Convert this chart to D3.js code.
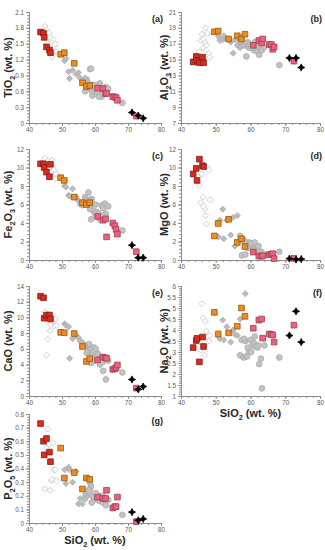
<!DOCTYPE html>
<html>
<head>
<meta charset="utf-8">
<script src="https://cdn.jsdelivr.net/npm/d3@7"></script>
<style>
body { margin: 0; background: #fff; }
svg { display: block; font-family: "Liberation Sans", Arial, sans-serif; }
</style>
</head>
<body>
<svg id="chart"></svg>
<script>
// columns of every row below
const columns = ["SiO2", "TiO2", "Al2O3", "Fe2O3", "MgO", "CaO", "Na2O", "P2O5"];

// red squares
const redRows = [
    [43.5, 1.72, 14.7, 10.4, 9.3, 12.7, 3.20, 0.73],
    [44.4, 1.70, 15.4, 10.4, 9.9, 12.5, 3.52, 0.60],
    [44.6, 1.62, 14.9, 10.0, 8.6, 9.9, 3.62, 0.50],
    [45.3, 1.44, 14.6, 9.5, 10.9, 10.3, 2.55, 0.62],
    [46.2, 1.38, 15.3, 9.0, 10.2, 10.3, 3.68, 0.52],
    [46.5, 1.33, 14.6, 10.35, 10.1, 9.8, 3.25, 0.45]
];
// orange squares
const orangeRows = [
    [49.6, 1.30, 18.5, 8.9, 2.6, 8.1, 4.80, 0.55],
    [50.7, 1.33, 18.6, 8.6, 3.95, 8.05, 3.82, 0.33],
    [53.7, 1.13, 17.6, 6.8, 4.4, 7.95, 3.87, 0.37],
    [56.2, 0.76, 18.0, 6.2, 1.9, 6.3, 4.17, 0.25],
    [57.4, 0.69, 17.6, 6.0, 2.3, 4.4, 5.00, 0.33],
    [58.4, 0.71, 18.2, 6.2, 1.45, 4.75, 4.62, 0.32]
];
// pink squares
const pinkRows = [
    [60.8, 0.66, 16.8, 4.7, 0.85, 4.6, 4.08, 0.19],
    [62.4, 0.65, 17.4, 4.3, 0.42, 4.95, 4.45, 0.18],
    [63.2, 0.56, 17.1, 4.45, 0.42, 4.85, 4.50, 0.18],
    [63.5, 0.56, 17.6, 2.5, 0.45, 4.8, 3.63, 0.24],
    [65.4, 0.50, 16.9, 4.0, 0.58, 3.4, 3.82, 0.11],
    [66.0, 0.49, 16.9, 3.7, 0.62, 3.45, 3.80, 0.12],
    [66.4, 0.48, 16.3, 3.3, 0.68, 3.6, 3.77, 0.12],
    [66.8, 0.43, 16.6, 2.8, 0.15, 3.95, 3.45, 0.19],
    [72.5, 0.13, 14.8, 0.9, 0.18, 1.0, 4.22, 0.01]
];
// black stars
const blackRows = [
    [71.2, 0.20, 15.2, 1.6, 0.15, 2.1, 3.75, 0.08],
    [73.1, 0.14, 15.2, 0.25, 0.05, 0.85, 4.85, 0.02],
    [74.6, 0.09, 14.0, 0.25, 0.10, 1.2, 3.45, 0.03]
];
// open light diamonds
const openDiamondRows = [
    [44.8, 1.83, 15.5, 11.0, 9.0, 10.7, 3.55, 0.25],
    [45.3, 1.76, 16.0, 10.5, 8.1, 5.2, 3.45, 0.55],
    [45.7, 1.52, 17.4, 10.7, 6.2, 7.2, 3.10, 0.69],
    [46.0, 1.70, 18.2, 10.2, 9.3, 10.3, 5.20, 0.58],
    [46.4, 1.62, 16.5, 9.9, 6.8, 8.3, 4.55, 0.24],
    [46.8, 1.30, 17.2, 9.2, 5.5, 9.6, 2.85, 0.31],
    [47.0, 1.25, 19.0, 10.8, 4.8, 9.3, 4.40, 0.32],
    [47.3, 1.58, 16.8, 10.0, 3.9, 10.0, 3.95, 0.59],
    [47.6, 1.45, 18.3, 9.7, 10.0, 8.9, 3.70, 0.39],
    [48.0, 1.50, 15.8, 8.8, 9.7, 9.8, 3.50, 0.39],
    [48.3, 1.35, 15.3, 9.3, 6.5, 9.0, 3.75, 0.31],
    [46.5, 1.42, 17.6, 9.5, 5.8, 9.1, 3.30, 0.45]
];
// filled grey diamonds
const greyDiamondRows = [
    [50.8, 1.18, 17.9, 8.0, 2.5, 9.2, 3.70, 0.39],
    [51.2, 1.22, 17.4, 7.9, 4.3, 9.0, 3.60, 0.29],
    [52.0, 0.97, 17.5, 7.0, 5.5, 8.8, 4.45, 0.41],
    [52.3, 0.84, 18.0, 6.9, 2.3, 4.8, 3.55, 0.39],
    [53.2, 1.00, 17.6, 7.7, 4.3, 7.3, 4.15, 0.30],
    [54.3, 0.92, 17.2, 6.8, 2.7, 7.7, 3.45, 0.38],
    [55.0, 0.95, 15.8, 6.4, 4.6, 7.4, 4.00, 0.14],
    [55.5, 0.85, 17.5, 6.0, 1.5, 7.0, 3.80, 0.18],
    [56.2, 0.80, 16.8, 5.9, 4.8, 6.8, 3.75, 0.14],
    [57.0, 0.85, 16.5, 6.6, 2.2, 6.5, 4.50, 0.21],
    [58.5, 0.62, 17.0, 6.5, 2.0, 6.0, 5.65, 0.29]
];
// filled grey circles
const greyCircleRows = [
    [57.0, 0.60, 17.3, 6.8, 2.6, 6.4, 2.85, 0.18],
    [57.5, 0.82, 17.8, 6.5, 0.5, 5.5, 3.55, 0.20],
    [58.0, 0.75, 17.0, 7.3, 2.2, 5.8, 2.75, 0.22],
    [58.5, 1.02, 16.8, 5.5, 0.6, 6.2, 3.50, 0.25],
    [58.8, 1.03, 15.4, 4.4, 1.8, 4.2, 2.80, 0.27],
    [59.2, 0.52, 17.2, 6.0, 1.3, 5.3, 3.20, 0.20],
    [59.6, 0.72, 16.5, 5.3, 1.9, 6.2, 3.00, 0.17],
    [60.0, 0.60, 16.8, 5.0, 1.6, 4.5, 3.55, 0.19],
    [60.5, 0.55, 16.5, 5.2, 1.7, 5.5, 3.30, 0.21],
    [61.0, 0.58, 16.2, 4.6, 1.4, 5.3, 3.40, 0.17],
    [61.5, 0.75, 17.0, 4.4, 1.2, 4.0, 3.25, 0.16],
    [62.0, 0.50, 16.0, 5.9, 1.3, 4.9, 3.20, 0.19],
    [62.5, 0.62, 15.6, 5.6, 0.9, 3.2, 2.45, 0.15],
    [63.0, 0.55, 16.3, 6.1, 0.9, 4.8, 2.70, 0.17],
    [63.3, 0.68, 16.2, 5.0, 0.7, 2.1, 1.35, 0.13],
    [68.3, 0.38, 14.3, 3.2, 0.9, 3.0, 2.75, 0.06],
    [58.2, 0.68, 16.8, 6.2, 2.0, 6.6, 3.60, 0.24],
    [59.0, 0.68, 17.0, 6.6, 1.5, 5.0, 2.80, 0.15],
    [60.2, 0.72, 16.5, 6.0, 1.8, 6.0, 3.00, 0.22],
    [61.2, 0.50, 17.2, 5.0, 1.9, 4.7, 3.70, 0.19],
    [62.3, 0.55, 16.8, 4.8, 1.5, 4.3, 3.30, 0.20],
    [64.0, 0.65, 16.6, 5.8, 0.6, 4.5, 3.30, 0.17]
];

// panels (a)-(g)
const panelOxides = ["TiO2", "Al2O3", "Fe2O3", "MgO", "CaO", "Na2O", "P2O5"];
const panelLabels = ["(a)", "(b)", "(c)", "(d)", "(e)", "(f)", "(g)"];
const yTitles = ["TiO_2 (wt. %)", "Al_2O_3 (wt. %)", "Fe_2O_3 (wt. %)", "MgO (wt. %)",
    "CaO (wt. %)", "Na_2O (wt. %)", "P_2O_5 (wt. %)"];
const yDomains = [[0, 2.1], [7, 21], [0, 12], [0, 12], [0, 14], [1, 6], [0, 0.8]];
const yTickSteps = [0.3, 2, 2, 2, 2, 0.5, 0.1];
const xDomain = [40, 80];
const xTickStep = 10;
const xTitle = "SiO_2 (wt. %)";

function chartConfig(){
    let width = 325;
    let height = 550;
    let colX = [[29, 161], [181, 320]];
    let rowY = [[12, 123], [149, 260], [286, 396], [414, 523]];
    let container = d3.select("#chart")
        .attr("width", width)
        .attr("height", height);
    return {width, height, colX, rowY, container};
}

function groupStyles(){
    let diamond = "M0,-3L3,0L0,3L-3,0Z";
    let star = "M0,-3.6L1.2,-1.2L3.6,0L1.2,1.2L0,3.6L-1.2,1.2L-3.6,0L-1.2,-1.2Z";
    return [
        {rows: greyCircleRows, shape: d3.symbol(d3.symbolCircle, 26)(), fill: "#c3c3c3", stroke: "#ababab"},
        {rows: greyDiamondRows, shape: diamond, fill: "#bcbcbc", stroke: "#a8a8a8"},
        {rows: openDiamondRows, shape: diamond, fill: "#ffffff", stroke: "#c4c4c4"},
        {rows: redRows, shape: d3.symbol(d3.symbolSquare, 32)(), fill: "#dd2a1e", stroke: "#7a2018"},
        {rows: orangeRows, shape: d3.symbol(d3.symbolSquare, 32)(), fill: "#f28a1c", stroke: "#8a5a22"},
        {rows: pinkRows, shape: d3.symbol(d3.symbolSquare, 32)(), fill: "#f0607c", stroke: "#9a4052"},
        {rows: blackRows, shape: star, fill: "#000000", stroke: "#000000"}
    ];
}

function addTitle(sel, text, size){
    let parts = text.split(/_(\d)/);
    sel.attr("font-size", size).attr("font-weight", "bold").attr("fill", "#262626");
    let shift = 0;
    parts.forEach((p, i) => {
        if(p === "") return;
        let isSub = i % 2 === 1;
        let want = isSub ? size * 0.3 : 0;
        sel.append("tspan")
            .attr("dy", want - shift)
            .attr("font-size", isSub ? size * 0.65 : size)
            .text(p);
        shift = want;
    });
}

function tickList(domain, step){
    let out = [];
    let n = Math.round((domain[1] - domain[0]) / step);
    for(let i = 0; i <= n; i++){
        out.push(+(domain[0] + i * step).toFixed(3));
    }
    return out;
}

function styleAxis(g){
    g.select(".domain").attr("stroke", "#8c8c8c");
    g.selectAll(".tick line").attr("stroke", "#8c8c8c");
    g.selectAll(".tick text").attr("fill", "#595959").attr("font-size", 6.3);
}

function drawPanel(config, i){
    let {colX, rowY, container} = config;
    let [x0, x1] = colX[i % 2];
    let [y0, y1] = rowY[Math.floor(i / 2)];
    let key = columns.indexOf(panelOxides[i]);
    let xScale = d3.scaleLinear().domain(xDomain).range([x0, x1]);
    let yScale = d3.scaleLinear().domain(yDomains[i]).range([y1, y0]);
    let body = container.append("g");

    // minor ticks
    let xMinor = d3.axisBottom(xScale).tickValues(tickList(xDomain, xTickStep / 5))
        .tickSize(2).tickFormat("");
    body.append("g").attr("transform", `translate(0,${y1})`).call(xMinor).call(styleAxis);
    let yMinor = d3.axisLeft(yScale).tickValues(tickList(yDomains[i], yTickSteps[i] / 5))
        .tickSize(2).tickFormat("");
    body.append("g").attr("transform", `translate(${x0},0)`).call(yMinor).call(styleAxis);

    let xAxis = d3.axisBottom(xScale).tickValues(tickList(xDomain, xTickStep))
        .tickSize(3).tickPadding(2).tickFormat(d => String(d));
    body.append("g").attr("transform", `translate(0,${y1})`).call(xAxis).call(styleAxis);
    let yAxis = d3.axisLeft(yScale).tickValues(tickList(yDomains[i], yTickSteps[i]))
        .tickSize(3).tickPadding(2).tickFormat(d => String(d));
    body.append("g").attr("transform", `translate(${x0},0)`).call(yAxis).call(styleAxis);

    let groups = groupStyles();
    for(let k = 0; k < groups.length; k++){
        let grp = groups[k];
        body.append("g").selectAll("path").data(grp.rows).enter().append("path")
            .attr("d", grp.shape)
            .attr("transform", d => `translate(${xScale(d[0])},${yScale(d[key])})`)
            .attr("fill", grp.fill)
            .attr("stroke", grp.stroke)
            .attr("stroke-width", 0.8);
    }

    body.append("text")
        .attr("x", x1 + 2).attr("y", y0 + 10)
        .attr("text-anchor", "end")
        .attr("font-size", 9).attr("font-weight", "bold").attr("fill", "#262626")
        .text(panelLabels[i]);

    let ty = (y0 + y1) / 2;
    let tx = i % 2 === 0 ? 12 : 168;
    let title = body.append("text")
        .attr("text-anchor", "middle")
        .attr("transform", `translate(${tx},${ty}) rotate(-90)`);
    addTitle(title, yTitles[i], 11);

    if(i >= 5){
        let xt = body.append("text")
            .attr("text-anchor", "middle")
            .attr("x", (x0 + x1) / 2)
            .attr("y", y1 + 21);
        addTitle(xt, xTitle, 11);
    }
}

function drawChart(){
    let config = chartConfig();
    for(let i = 0; i < panelOxides.length; i++){
        drawPanel(config, i);
    }
}

drawChart();
</script>
</body>
</html>
